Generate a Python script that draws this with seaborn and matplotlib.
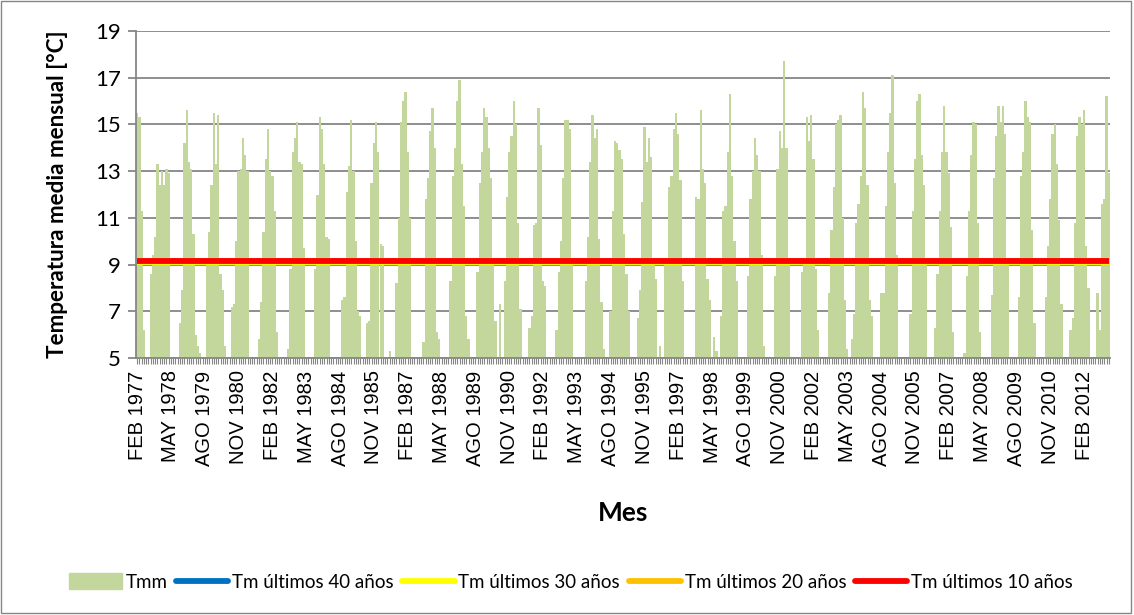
#plot.py
#Temperatura media mensual (Tmm) con medias de los ultimos 40/30/20/10 años

import matplotlib
matplotlib.use('Agg')
import matplotlib.pyplot as plt
import matplotlib.patches as mpatches
from matplotlib.lines import Line2D
import pandas as pd
import seaborn as sns

#monthly values (values under 5 are hidden below the axis)
t1977 = [15.5, 15.3, 11.3, 6.2, 4.1, 3.8, 8.6, 9.4, 10.2, 13.3, 12.4]  #feb-dic
t1978 = [13.0, 12.4, 13.1, 12.9, 4.6, 3.9, 3.5, 4.2, 6.5, 7.9, 14.2, 15.6]
t1979 = [13.4, 13.1, 10.3, 6.0, 5.5, 5.2, 4.0, 4.4, 9.0, 10.4, 12.4, 15.5]
t1980 = [13.3, 15.4, 8.6, 7.9, 5.5, 4.3, 3.7, 7.2, 7.3, 10.0, 13.0, 13.1]
t1981 = [14.4, 13.7, 13.0, 4.7, 4.0, 3.6, 4.2, 5.8, 7.4, 10.4, 13.5, 14.8]
t1982 = [13.0, 12.8, 11.3, 6.1, 4.5, 3.8, 3.5, 4.4, 5.4, 8.8, 13.8, 14.4]
t1983 = [15.1, 13.4, 13.3, 9.7, 4.6, 3.9, 3.6, 4.3, 8.8, 12.0, 15.3, 14.8]
t1984 = [13.3, 10.2, 10.1, 4.8, 4.1, 3.5, 3.7, 4.5, 7.5, 7.6, 12.1, 13.2]
t1985 = [15.2, 13.0, 10.0, 7.0, 6.8, 3.8, 4.0, 6.5, 6.6, 12.5, 14.2, 15.1]
t1986 = [13.8, 9.9, 9.8, 4.6, 4.0, 5.3, 3.7, 4.4, 8.2, 11.0, 15.1, 16.0]
t1987 = [16.4, 13.8, 11.0, 4.7, 4.2, 3.6, 3.9, 4.5, 5.7, 11.8, 12.7, 14.7]
t1988 = [15.7, 14.0, 6.1, 5.8, 4.3, 3.7, 3.5, 4.6, 8.3, 12.8, 14.0, 16.0]
t1989 = [16.9, 13.3, 11.5, 6.8, 5.8, 4.2, 3.8, 4.5, 8.7, 12.5, 13.8, 15.7]
t1990 = [15.3, 14.0, 12.7, 9.0, 6.6, 4.4, 7.3, 4.0, 8.3, 11.9, 13.8, 14.5]
t1991 = [16.0, 15.0, 10.8, 7.1, 4.5, 3.9, 4.3, 6.3, 6.8, 10.7, 10.8, 15.7]
t1992 = [14.1, 8.3, 8.1, 4.6, 4.0, 3.6, 4.1, 6.2, 8.7, 10.0, 12.7, 15.2]
t1993 = [15.2, 14.8, 9.0, 4.7, 4.1, 3.8, 3.5, 4.6, 8.3, 10.2, 13.4, 15.4]
t1994 = [14.4, 14.8, 10.1, 7.4, 5.4, 3.9, 3.7, 7.0, 11.3, 14.3, 14.2, 13.9]
t1995 = [13.5, 10.3, 8.6, 7.0, 4.0, 3.5, 3.8, 6.7, 7.9, 11.7, 14.9, 13.4]
t1996 = [14.4, 13.6, 9.0, 8.4, 4.6, 5.5, 4.0, 9.0, 9.3, 12.3, 12.8, 14.8]
t1997 = [15.5, 14.6, 12.6, 8.3, 4.5, 3.8, 3.5, 4.2, 4.7, 11.9, 11.8, 15.6]
t1998 = [13.1, 12.5, 8.4, 7.5, 4.6, 5.9, 5.3, 4.3, 6.8, 11.3, 11.5, 13.8]
t1999 = [16.3, 12.8, 10.0, 8.3, 4.4, 3.8, 3.6, 4.5, 8.5, 11.8, 13.0, 14.4]
t2000 = [13.7, 13.0, 9.4, 5.5, 4.3, 3.7, 3.9, 4.6, 8.5, 13.1, 14.7, 14.0]
t2001 = [17.7, 14.0, 9.3, 4.8, 4.2, 3.6, 3.9, 4.4, 8.7, 9.3, 15.3, 14.3]
t2002 = [15.4, 13.5, 8.8, 6.2, 4.4, 3.7, 3.4, 4.5, 7.8, 10.5, 12.3, 15.0]
t2003 = [15.2, 15.4, 11.0, 7.5, 5.4, 4.2, 5.8, 6.9, 10.8, 11.6, 12.8, 16.4]
t2004 = [15.7, 12.4, 7.5, 6.8, 4.5, 3.8, 3.6, 7.8, 7.8, 11.5, 13.8, 15.5]
t2005 = [17.1, 12.5, 9.4, 4.8, 4.1, 3.5, 3.8, 4.6, 6.9, 11.3, 13.5, 16.0]
t2006 = [16.3, 13.7, 12.4, 9.0, 4.5, 3.9, 3.7, 6.3, 8.6, 11.3, 13.8, 15.8]
t2007 = [13.8, 12.9, 10.6, 6.1, 4.4, 3.6, 3.9, 4.7, 5.2, 8.5, 11.3, 13.7]
t2008 = [15.1, 15.0, 10.8, 6.1, 4.6, 3.8, 3.5, 4.4, 7.7, 12.7, 14.5, 15.8]
t2009 = [15.1, 15.8, 14.6, 9.0, 4.5, 3.9, 3.6, 4.6, 7.6, 12.8, 13.8, 16.0]
t2010 = [15.3, 15.1, 10.5, 6.5, 4.4, 3.7, 3.5, 4.5, 7.6, 9.8, 11.8, 14.6]
t2011 = [15.0, 13.3, 10.9, 7.3, 4.6, 3.9, 3.6, 6.2, 6.7, 10.8, 14.5, 15.3]
t2012 = [15.0, 15.6, 9.8, 8.0, 4.5, 3.8, 4.2, 7.8, 6.2, 11.6, 11.8, 16.2]
t2013 = [12.9]  #ene

#averages (horizontal lines)
tm_40 = 9.16
tm_30 = 9.09
tm_20 = 9.17
tm_10 = 9.16

meses = ['ENE', 'FEB', 'MAR', 'ABR', 'MAY', 'JUN', 'JUL', 'AGO', 'SEP', 'OCT', 'NOV', 'DIC']

tmm = (t1977 + t1978 + t1979 + t1980 + t1981 + t1982 + t1983 + t1984 + t1985 + t1986
       + t1987 + t1988 + t1989 + t1990 + t1991 + t1992 + t1993 + t1994 + t1995 + t1996
       + t1997 + t1998 + t1999 + t2000 + t2001 + t2002 + t2003 + t2004 + t2005 + t2006
       + t2007 + t2008 + t2009 + t2010 + t2011 + t2012 + t2013)
n = len(tmm)

#month labels starting at FEB 1977
labels = [f'{meses[(1 + k) % 12]} {1977 + (1 + k) // 12}' for k in range(n)]
df = pd.DataFrame({'mes': labels, 'tmm': tmm})

grey = '#868686'
plt.rcParams['font.family'] = ['Lato', 'DejaVu Sans']

fig = plt.figure(figsize=(11.34, 6.15), dpi=100)
ax = fig.add_axes([136 / 1134, 1 - 358 / 615, (1110 - 136) / 1134, (358 - 31) / 615])

#bars
sns.barplot(data=df, x='mes', y='tmm', color='#C3D69B', saturation=1, width=1.0,
            errorbar=None, linewidth=0, ax=ax)

#average lines, red drawn last so it sits on top
ax.plot(range(n), [tm_40] * n, color='#0070C0', lw=4.2, solid_capstyle='butt')
ax.plot(range(n), [tm_30] * n, color='#FFFF00', lw=4.2, solid_capstyle='butt')
ax.plot(range(n), [tm_20] * n, color='#FFC000', lw=4.2, solid_capstyle='butt')
ax.plot(range(n), [tm_10] * n, color='#FF0000', lw=4.2, solid_capstyle='butt')

ax.set_ylim(5, 19)
ax.set_xlim(-0.5, n - 0.5)
ax.set_yticks(range(5, 20, 2))
ax.yaxis.grid(True, color=grey, lw=1.3)
ax.set_axisbelow(True)

ax.set_xticks(range(n))
ax.set_xticklabels([lab if k % 15 == 0 else '' for k, lab in enumerate(labels)],
                   rotation=90, fontsize=14.5, family='Liberation Sans')
ax.tick_params(axis='x', length=4, width=0.8, color=grey, pad=5)
ax.tick_params(axis='y', length=6, width=1.3, color=grey, labelsize=16, pad=5)

for s in ['top', 'right']:
    ax.spines[s].set_visible(False)
ax.spines['left'].set_color(grey)
ax.spines['left'].set_linewidth(1.3)
ax.spines['bottom'].set_color(grey)
ax.spines['bottom'].set_linewidth(1.3)

ax.set_xlabel('')
ax.set_ylabel('')
fig.text(58 / 1134, 1 - 194 / 615, 'Temperatura media mensual [°C]', rotation=90,
         ha='center', va='center', fontsize=16.2, fontweight='bold')
fig.text(623 / 1134, 1 - 513 / 615, 'Mes', ha='center', va='center', fontsize=19,
         fontweight='bold')

#legend along the bottom
handles = [mpatches.Patch(color='#C3D69B'),
           Line2D([], [], color='#0070C0', lw=4.2, solid_capstyle='round'),
           Line2D([], [], color='#FFFF00', lw=4.2, solid_capstyle='round'),
           Line2D([], [], color='#FFC000', lw=4.2, solid_capstyle='round'),
           Line2D([], [], color='#FF0000', lw=4.2, solid_capstyle='round')]
names = ['Tmm', 'Tm últimos 40 años', 'Tm últimos 30 años', 'Tm últimos 20 años',
         'Tm últimos 10 años']
fig.legend(handles, names, loc='center', bbox_to_anchor=(571 / 1134, 1 - 582 / 615),
           ncol=5, frameon=False, fontsize=13.5, handlelength=2.8, handleheight=0.95,
           handletextpad=0.2, columnspacing=0.45)

#outer chart border
fig.patches.append(mpatches.Rectangle((0.001, 0.003), 0.996, 0.995, transform=fig.transFigure,
                                      fill=False, edgecolor=grey, lw=1))

fig.savefig('out.png', dpi=100)
